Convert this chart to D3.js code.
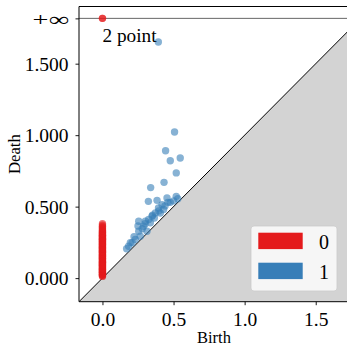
<!DOCTYPE html>
<html>
<head>
<meta charset="utf-8">
<script src="https://cdn.jsdelivr.net/npm/d3@7"></script>
<style>
  html, body { margin: 0; padding: 0; background: #fff; }
  svg { display: block; }
  text { font-family: "Liberation Serif", "DejaVu Serif", serif; fill: #000; }
</style>
</head>
<body>
<svg id="chart" width="347" height="345"></svg>
<script>
// Persistence diagram: dimension 0 (red) and dimension 1 (blue)
const dims = ["0", "1"];
const dimColors = ["#e41a1c", "#377eb8"];

// H0 pairs: all born at 0, finite deaths
const h0Deaths = [0.012, 0.016, 0.021, 0.024, 0.027, 0.031, 0.036, 0.039, 0.041, 0.046, 0.049, 0.053,
                  0.058, 0.061, 0.063, 0.067, 0.071, 0.076, 0.082, 0.085, 0.088, 0.092, 0.095, 0.099,
                  0.104, 0.108, 0.111, 0.114, 0.117, 0.122, 0.126, 0.131, 0.135, 0.138, 0.141, 0.145,
                  0.149, 0.153, 0.158, 0.161, 0.163, 0.168, 0.172, 0.177, 0.181, 0.184, 0.186, 0.191,
                  0.194, 0.199, 0.203, 0.207, 0.211, 0.215, 0.218, 0.222, 0.226, 0.231, 0.234, 0.238,
                  0.241, 0.245, 0.249, 0.253, 0.257, 0.262, 0.266, 0.269, 0.272, 0.276, 0.279, 0.284,
                  0.288, 0.292, 0.296, 0.299, 0.303, 0.308, 0.312, 0.317, 0.321, 0.327, 0.333, 0.339,
                  0.347, 0.354, 0.362, 0.371, 0.381];
const h0Births = h0Deaths.map(() => 0);
// H0 pairs that never die
const h0InfBirths = [0, 0];

// H1 pairs
const h1Births = [0.393, 0.507, 0.444, 0.477, 0.547, 0.519, 0.433, 0.339, 0.323, 0.384,
                  0.454, 0.519, 0.419, 0.477, 0.530, 0.372, 0.349, 0.407, 0.255, 0.302,
                  0.337, 0.290, 0.325, 0.255, 0.231, 0.196, 0.184, 0.209, 0.266, 0.313,
                  0.250, 0.280, 0.365, 0.394, 0.440, 0.500, 0.300, 0.170, 0.222, 0.352,
                  0.460, 0.430, 0.396];
const h1Deaths = [1.652, 1.022, 0.891, 0.821, 0.840, 0.736, 0.670, 0.633, 0.537, 0.544,
                  0.561, 0.572, 0.514, 0.530, 0.555, 0.456, 0.433, 0.456, 0.398, 0.398,
                  0.387, 0.363, 0.410, 0.328, 0.270, 0.247, 0.223, 0.247, 0.293, 0.328,
                  0.365, 0.345, 0.420, 0.490, 0.505, 0.540, 0.380, 0.205, 0.290, 0.440,
                  0.530, 0.480, 0.470];

// Axis extents (birth/death units)
const axisStart = -0.165;
const axisEnd = 1.734;
const infinity = 1.817;
const yTop = 1.9;

const xTicks = [0.0, 0.5, 1.0, 1.5];
const yTicks = [0.0, 0.5, 1.0, 1.5];
const infLabel = "+\u221E";
const annotation = "2 point";

const svg = d3.select("#chart");
const padL = 79, padR = 349, padT = 6.5, padB = 301.7;

const x = d3.scaleLinear().domain([axisStart, axisEnd]).range([padL, padR]);
const y = d3.scaleLinear().domain([axisStart, yTop]).range([padB, padT]);

svg.append("defs").append("clipPath").attr("id", "plotclip")
  .append("rect").attr("x", padL).attr("y", padT)
  .attr("width", padR - padL).attr("height", padB - padT);

const plot = svg.append("g").attr("clip-path", "url(#plotclip)");

// region below the diagonal
plot.append("polygon")
  .attr("points", [[axisStart, axisStart], [axisEnd, axisStart], [axisEnd, axisEnd]]
    .map(p => [x(p[0]), y(p[1])].join(",")).join(" "))
  .attr("fill", "#d3d3d3");

// diagonal
plot.append("line")
  .attr("x1", x(axisStart)).attr("y1", y(axisStart))
  .attr("x2", x(axisEnd)).attr("y2", y(axisEnd))
  .attr("stroke", "#000").attr("stroke-width", 1);

// infinity line
plot.append("line")
  .attr("x1", x(axisStart)).attr("y1", y(infinity))
  .attr("x2", x(axisEnd)).attr("y2", y(infinity))
  .attr("stroke", "#000").attr("stroke-opacity", 0.6).attr("stroke-width", 1);

const r = 3.7;
const h0 = h0Births.map((b, i) => [b, h0Deaths[i]]).concat(h0InfBirths.map(b => [b, infinity]));
const h1 = h1Births.map((b, i) => [b, h1Deaths[i]]);

[h0, h1].forEach((pts, k) => {
  plot.append("g").selectAll("circle").data(pts).join("circle")
    .attr("cx", d => x(d[0])).attr("cy", d => y(d[1])).attr("r", r)
    .attr("fill", dimColors[k]).attr("fill-opacity", 0.6);
});

// annotation next to the points at infinity
svg.append("text")
  .attr("x", x(0)).attr("y", 41.5)
  .attr("font-size", 19.3).attr("font-weight", 300)
  .text(annotation);

// spines (right spine falls outside the window)
[[padL, padT, padL, padB], [padL, padB, padR, padB], [padL, padT, padR, padT], [padR, padT, padR, padB]]
  .forEach(s => {
    svg.append("line").attr("x1", s[0]).attr("y1", s[1]).attr("x2", s[2]).attr("y2", s[3])
      .attr("stroke", "#000").attr("stroke-width", 1);
  });

// x axis
const xAxis = svg.append("g").attr("transform", `translate(0,${padB})`)
  .call(d3.axisBottom(x).tickValues(xTicks).tickFormat(d3.format(".1f"))
    .tickSize(3.5).tickPadding(0));
xAxis.select(".domain").remove();
xAxis.selectAll("text").attr("dy", null).attr("y", 24.3)
  .attr("font-size", 19.5).attr("font-family", "Liberation Serif");

// y axis, with the extra +infinity tick
const yAxis = svg.append("g").attr("transform", `translate(${padL},0)`)
  .call(d3.axisLeft(y).tickValues(yTicks.concat([infinity]))
    .tickFormat(d => d === infinity ? infLabel : d3.format(".3f")(d))
    .tickSize(3.5).tickPadding(7));
yAxis.select(".domain").remove();
yAxis.selectAll("text").attr("dy", null).attr("y", 6.4)
  .attr("font-size", 19.5).attr("font-family", "Liberation Serif");
yAxis.selectAll(".tick").filter(d => d === infinity).select("text")
  .attr("textLength", 36).attr("lengthAdjust", "spacingAndGlyphs").attr("y", 6.8);
svg.selectAll(".tick line").attr("stroke", "#000").attr("stroke-width", 0.9);

// axis titles
svg.append("text").attr("x", (padL + padR) / 2).attr("y", 342.5)
  .attr("text-anchor", "middle").attr("font-size", 16.5).text("Birth");
svg.append("text").attr("transform", `translate(20,${(padT + padB) / 2}) rotate(-90)`)
  .attr("text-anchor", "middle").attr("font-size", 16.7).text("Death");

// legend
const lg = svg.append("g");
lg.append("rect").attr("x", 251).attr("y", 226).attr("width", 86).attr("height", 65)
  .attr("rx", 3).attr("fill", "#fff").attr("fill-opacity", 0.8)
  .attr("stroke", "#ccc").attr("stroke-opacity", 0.8).attr("stroke-width", 1);
dims.forEach((dm, i) => {
  const yy = 232.7 + i * 30;
  lg.append("rect").attr("x", 258.3).attr("y", yy).attr("width", 44.4).attr("height", 16.4)
    .attr("fill", dimColors[i]);
  lg.append("text").attr("x", 324).attr("y", yy + 16.5)
    .attr("text-anchor", "middle").attr("font-size", 20).text(dm);
});
</script>
</body>
</html>
